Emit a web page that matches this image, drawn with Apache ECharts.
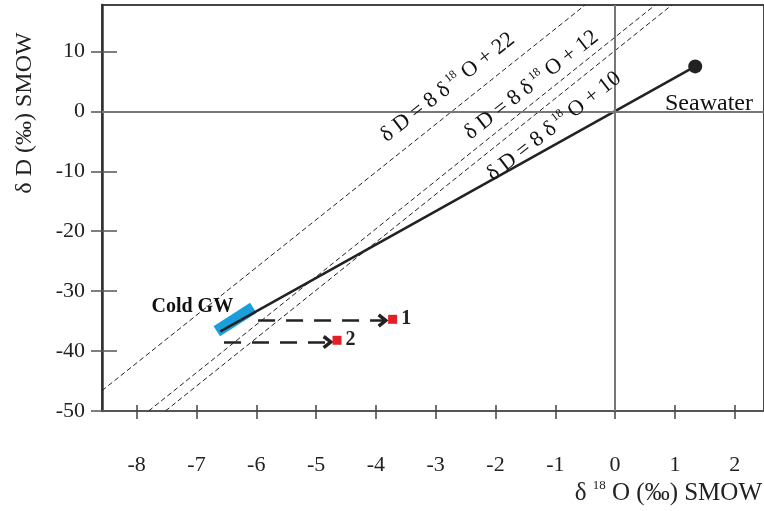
<!DOCTYPE html>
<html>
<head>
<meta charset="utf-8">
<script src="https://cdn.jsdelivr.net/npm/echarts@6/dist/echarts.min.js"></script>
<style>
  html, body { margin: 0; padding: 0; background: #fff; }
  #chart { width: 764px; height: 511px; }
</style>
</head>
<body>
<div id="chart"></div>
<script>
// tick labels
var xTicks = [-8, -7, -6, -5, -4, -3, -2, -1, 0, 1, 2]
var yTicks = [-50, -40, -30, -20, -10, 0, 10]

// meteoric water lines (end points)
var mwl22 = [[-8.58, -46.6], [-0.50, 17.75]]
var mwl12 = [[-7.80, -50], [0.67, 17.75]]
var mwl10 = [[-7.52, -50], [0.95, 17.75]]

// mixing line cold GW -> seawater
var mixingLine = [[-6.6, -36.7], [1.34, 7.5]]
var seawater = [[1.34, 7.5]]
var coldGW = [[-6.66, -36.7], [-6.05, -32.8]]

// samples and shift arrows
var samples = [[-3.72, -34.7, '1'], [-4.65, -38.2, '2']]
var arrowFrom = [[-5.97, -34.9], [-6.54, -38.5]]
var arrowTo = [[-3.88, -34.9], [-4.80, -38.5]]

// equation labels [x, y, intercept]
var eqLabels = [[-2.80, 4.0, '22'], [-1.40, 4.4, '12'], [-1.02, -2.5, '10']]
var textLabels = [[-7.07, -32.6, 'Cold GW'], [1.57, 1.3, 'Seawater']]

var FONT = 'Liberation Serif, Times New Roman, serif'

var chartDom = document.getElementById('chart')
var myChart = echarts.init(chartDom)
var option

function dashed(data, z) {
  return {
    type: 'line',
    data: data,
    showSymbol: false,
    silent: true,
    z: z,
    lineStyle: { color: '#222', width: 1, type: [5, 3] }
  }
}

var xCommon = { type: 'value', min: -8.58, max: 2.49, splitLine: { show: false } }
var yCommon = { type: 'value', min: -50, max: 17.75, splitLine: { show: false } }

option = {
  animation: false,
  backgroundColor: '#fff',
  grid: {
    left: 102, right: 0, top: 5, bottom: 100,
    show: true, borderColor: '#444', borderWidth: 2
  },
  xAxis: [
    Object.assign({}, xCommon, {
      position: 'bottom',
      axisLine: { onZero: false, lineStyle: { color: '#555', width: 2 } },
      axisTick: { customValues: xTicks, length: 8, lineStyle: { color: '#444', width: 1.5 } },
      axisLabel: { customValues: xTicks, margin: 43, fontSize: 22, color: '#222', fontFamily: FONT }
    }),
    Object.assign({}, xCommon, {
      position: 'bottom',
      axisLine: { show: false, onZero: false },
      axisTick: { customValues: xTicks, inside: true, length: 6, lineStyle: { color: '#444', width: 1.5 } },
      axisLabel: { show: false }
    })
  ],
  yAxis: [
    Object.assign({}, yCommon, {
      position: 'left',
      axisLine: { show: true, onZero: false, lineStyle: { color: '#333', width: 2.5 } },
      axisTick: { show: true, customValues: yTicks, length: 11, lineStyle: { color: '#555', width: 1.5 } },
      axisLabel: { customValues: yTicks, margin: 17, fontSize: 22, color: '#222', fontFamily: FONT }
    }),
    Object.assign({}, yCommon, {
      position: 'left',
      axisLine: { show: false, onZero: false },
      axisTick: { show: true, customValues: yTicks, inside: true, length: 15, lineStyle: { color: '#555', width: 1.5 } },
      axisLabel: { show: false }
    })
  ],
  graphic: [
    {
      type: 'text', x: 25, y: 113, rotation: Math.PI / 2,
      style: {
        text: 'δ D (‰) SMOW', fill: '#222', font: '24px ' + FONT,
        textAlign: 'center', textVerticalAlign: 'middle'
      }
    },
    {
      type: 'text', x: 762, y: 493,
      style: {
        text: '{a|δ }{s|18}{a| O (‰) SMOW}',
        textAlign: 'right', textVerticalAlign: 'middle',
        rich: {
          a: { fontSize: 25, fontFamily: FONT, fill: '#222', lineHeight: 28 },
          s: { fontSize: 13, fontFamily: FONT, fill: '#222', verticalAlign: 'top', lineHeight: 28 }
        }
      }
    }
  ],
  series: [
    Object.assign(dashed(mwl22, 2), {
      markLine: {
        silent: true, symbol: 'none', label: { show: false },
        lineStyle: { color: '#777', width: 2, type: 'solid' },
        data: [{ yAxis: 0 }, { xAxis: 0 }]
      }
    }),
    dashed(mwl12, 2),
    dashed(mwl10, 2),
    {
      type: 'line', data: coldGW, showSymbol: false, silent: true, z: 3,
      lineStyle: { color: '#1A9FDB', width: 12, cap: 'butt' }
    },
    {
      type: 'line', data: mixingLine, showSymbol: false, silent: true, z: 4,
      lineStyle: { color: '#222', width: 2.5 }
    },
    {
      type: 'scatter', data: seawater, symbolSize: 14, silent: true, z: 5,
      itemStyle: { color: '#222', opacity: 1 }
    },
    {
      type: 'scatter', symbol: 'rect', symbolSize: 9, silent: true, z: 5,
      itemStyle: { color: '#E32028', opacity: 1 },
      data: samples.map(function (d) { return { value: d } }),
      label: {
        show: true, position: 'right', distance: 4,
        formatter: function (p) { return p.value[2] },
        fontSize: 20, fontWeight: 'bold', color: '#222', fontFamily: FONT
      },
      markLine: {
        silent: true,
        symbol: ['none', 'path://M5,0 L10,8 L8,10 L5,5 L2,10 L0,8 Z'],
        symbolSize: [14, 11],
        label: { show: false },
        lineStyle: { color: '#222', width: 2.5, type: [17, 11] },
        data: arrowFrom.map(function (a, i) {
          return [{ coord: a }, { coord: arrowTo[i] }]
        })
      }
    },
    {
      type: 'scatter', symbolSize: 0, silent: true, z: 6,
      itemStyle: { opacity: 1 },
      data: eqLabels.map(function (d) {
        return {
          value: [d[0], d[1]],
          label: { formatter: '{a|δ D = 8 δ}{s| 18}{a| O + ' + d[2] + '}' }
        }
      }),
      label: {
        show: true, position: 'inside', rotate: 38, color: '#111', textBorderWidth: 0,
        rich: {
          a: { fontSize: 22, fontFamily: FONT, color: '#111', lineHeight: 25, textBorderWidth: 0 },
          s: { fontSize: 12, fontFamily: FONT, color: '#111', verticalAlign: 'top', lineHeight: 25, textBorderWidth: 0 }
        }
      }
    },
    {
      type: 'scatter', symbolSize: 0, silent: true, z: 6,
      itemStyle: { opacity: 1 },
      data: textLabels.map(function (d) {
        return {
          value: [d[0], d[1]],
          label: {
            formatter: d[2],
            fontWeight: d[2] === 'Cold GW' ? 'bold' : 'normal',
            fontSize: d[2] === 'Cold GW' ? 20 : 24
          }
        }
      }),
      label: { show: true, position: 'inside', color: '#111', textBorderWidth: 0, fontFamily: FONT }
    }
  ]
}

option && myChart.setOption(option)
</script>
</body>
</html>
